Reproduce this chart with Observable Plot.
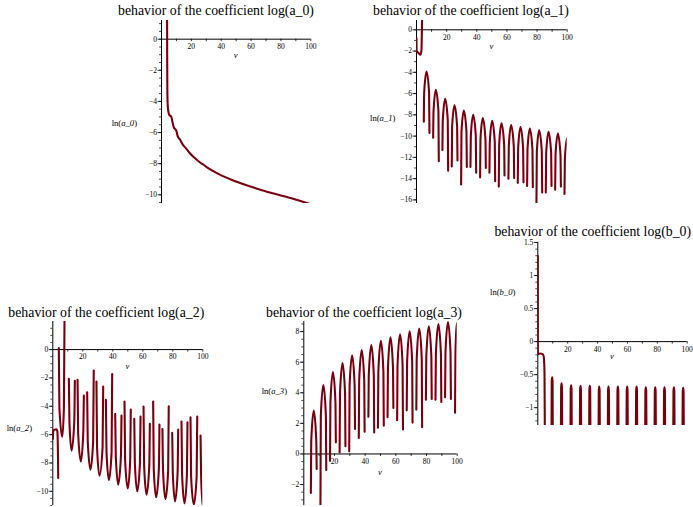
<!DOCTYPE html>
<html><head><meta charset="utf-8">
<script src="https://cdn.jsdelivr.net/npm/d3@7"></script>
<script src="https://cdn.jsdelivr.net/npm/@observablehq/plot@0.6"></script>
<style>
html,body{margin:0;padding:0;background:#fff;}
#page{position:relative;width:693px;height:507px;overflow:hidden;background:#fff;}
#page svg{position:absolute;left:0;top:0;background:transparent !important;overflow:visible;}
</style></head><body><div id="page"></div>
<script>
// ---------- tick labels ----------
const xTickLabels = [20, 40, 60, 80, 100];
const xTickMarks = [10, 20, 30, 40, 50, 60, 70, 80, 90, 100];
const a0YTicks = [0, -2, -4, -6, -8, -10];
const a1YTicks = [0, -2, -4, -6, -8, -10, -12, -14, -16];
const a2YTicks = [0, -2, -4, -6, -8, -10];
const a3YTicks = [-2, 0, 2, 4, 6, 8];
const b0YTicks = [-1, -0.5, 0, 0.5, 1, 1.5];

// ---------- titles and axis labels ----------
const titles = ["behavior of the coefficient log(a_0)", "behavior of the coefficient log(a_1)",
  "behavior of the coefficient log(a_2)", "behavior of the coefficient log(a_3)", "behavior of the coefficient log(b_0)"];
const yNames = ["a_0", "a_1", "a_2", "a_3", "b_0"];
const xName = "v";

// ---------- series (v, ln value); each piece is a drawn stretch ----------
const a0Pieces = [
  [[3.75,1.2],[3.8,-1.0],[3.9,-3.0],[4.1,-4.1],[4.6,-4.65],[5.3,-4.88],[6.5,-4.97],[7.3,-5.3],[8.2,-5.65],[9.3,-5.8],[10.0,-5.9],[10.6,-6.15],[11.3,-6.32],[12.4,-6.45],[13.5,-6.65],[14.9,-6.85],[16.0,-6.97],[17.1,-7.1],[19.0,-7.33],[21.0,-7.53],[23.0,-7.7],[25.0,-7.86],[27.5,-8.03],[30.0,-8.2],[35.0,-8.5],[40.4,-8.77],[46.0,-9.0],[51.5,-9.2],[57.0,-9.39],[62.7,-9.56],[68.0,-9.72],[73.8,-9.88],[80.0,-10.04],[85.0,-10.17],[92.0,-10.37],[100,-10.6]]
];

const a1Pieces = [
  [[0,-0.8],[0.05,-1.95],[1.5,-2.2],[2.7,-2.35],[3.3,-1.9],[3.5,-0.8],[3.7,0.87]],
  [[4.85,-8.65],[5.1,-5.9],[6.64,-3.92],[8.35,-5.9],[8.6,-9.7]],
  [[11.05,-10.15],[11.3,-7.65],[12.83,-5.65],[14.55,-7.65],[14.8,-12.36]],
  [[17.2,-11.3],[17.45,-8.5],[19.02,-6.5],[20.75,-8.5],[21.0,-13.25]],
  [[23.4,-12.85],[23.65,-9.1],[25.21,-7.1],[26.95,-9.1],[27.2,-12.3]],
  [[29.6,-14.55],[29.85,-9.6],[31.41,-7.6],[33.15,-9.6],[33.4,-12.9]],
  [[35.8,-12.9],[36.05,-10.0],[37.6,-8.0],[39.35,-10.0],[39.6,-13.45]],
  [[42.2,-13.9],[42.45,-10.3],[44.0,-8.3],[45.75,-10.3],[46.0,-13.0]],
  [[48.4,-13.45],[48.65,-10.55],[50.2,-8.55],[51.95,-10.55],[52.2,-14.25]],
  [[54.6,-14.75],[54.85,-10.8],[56.4,-8.8],[58.15,-10.8],[58.4,-13.7]],
  [[61.0,-14.0],[61.25,-10.95],[62.8,-8.95],[64.55,-10.95],[64.8,-13.95]],
  [[67.2,-14.4],[67.45,-11.15],[69.0,-9.15],[70.75,-11.15],[71.0,-14.35]],
  [[73.4,-14.7],[73.65,-11.3],[75.2,-9.3],[76.95,-11.3],[77.2,-14.8]],
  [[79.6,-16.25],[79.85,-11.45],[81.4,-9.45],[83.15,-11.45],[83.4,-15.3]],
  [[85.8,-15.3],[86.05,-11.6],[87.6,-9.6],[89.35,-11.6],[89.6,-14.7]],
  [[92.0,-15.05],[92.25,-11.75],[93.8,-9.75],[95.55,-11.75],[95.8,-14.75]],
  [[98.2,-15.45],[98.45,-12.2],[99.3,-10.7],[100,-10.2]]
];

const a2Pieces = [
  [[0,-6.3],[0.3,-5.75],[1.0,-5.65],[2.5,-5.62],[3.0,-5.75],[3.3,-6.5],[3.5,-7.8],[3.6,-9.06]],
  [[4.0,0.1],[4.4,-4.1],[6.3,-6.15],[7.4,-4.1],[7.8,1.98]],
  [[10.7,-2.07],[11.1,-5.13],[12.5,-7.13],[14.3,-5.13],[14.7,-2.21]],
  [[16.5,-2.14],[16.9,-5.9],[18.7,-7.9],[20.3,-5.9],[20.7,-3.25]],
  [[22.9,-3.01],[23.3,-6.47],[25.1,-8.47],[26.9,-6.47],[27.3,-1.48]],
  [[29.1,-2.26],[29.5,-6.89],[31.1,-8.89],[33.2,-6.89],[33.6,-2.61]],
  [[35.4,-3.55],[35.8,-7.2],[37.4,-9.2],[39.2,-7.2],[39.6,-1.72]],
  [[41.6,-4.54],[42.0,-7.53],[43.6,-9.53],[45.4,-7.53],[45.8,-4.66]],
  [[47.8,-3.67],[48.2,-7.79],[50.0,-9.79],[51.6,-7.79],[52.0,-4.23]],
  [[54.3,-4.89],[54.7,-8.0],[56.3,-10.0],[58.1,-8.0],[58.5,-4.73]],
  [[60.5,-4.02],[60.9,-8.23],[62.5,-10.23],[64.3,-8.23],[64.7,-5.24]],
  [[66.9,-3.67],[67.3,-8.42],[68.9,-10.42],[70.7,-8.42],[71.1,-5.29]],
  [[73.1,-5.6],[73.5,-8.54],[75.1,-10.54],[76.9,-8.54],[77.3,-4.0]],
  [[79.6,-5.88],[80.0,-8.71],[81.5,-10.71],[83.2,-8.71],[83.6,-5.65]],
  [[85.8,-5.08],[86.2,-8.85],[87.8,-10.85],[89.4,-8.85],[89.8,-5.13]],
  [[91.8,-4.78],[92.2,-8.94],[94.0,-10.94],[95.9,-8.94],[96.3,-4.73]],
  [[98.5,-6.07],[98.9,-9.0],[100,-10.98]]
];

const a3Pieces = [
  [[4.6,-2.55],[4.85,0.83],[6.5,2.83],[8.15,0.83],[8.4,-0.98]],
  [[10.85,-3.37],[11.1,2.5],[12.75,4.5],[14.4,2.5],[14.65,-1.05]],
  [[17.1,-0.45],[17.35,3.35],[19.0,5.35],[20.65,3.35],[20.9,0.76]],
  [[23.35,0.1],[23.6,3.95],[25.25,5.95],[26.9,3.95],[27.15,0.5]],
  [[29.6,0.17],[29.85,4.45],[31.5,6.45],[33.15,4.45],[33.4,1.63]],
  [[35.85,1.05],[36.1,4.8],[37.75,6.8],[39.4,4.8],[39.65,1.46]],
  [[42.1,2.44],[42.35,5.12],[44.0,7.12],[45.65,5.12],[45.9,1.41]],
  [[48.35,1.72],[48.6,5.4],[50.25,7.4],[51.9,5.4],[52.15,1.85]],
  [[54.6,2.4],[54.85,5.62],[56.5,7.62],[58.15,5.62],[58.4,3.0]],
  [[60.85,2.2],[61.1,5.82],[62.75,7.82],[64.4,5.82],[64.65,1.6]],
  [[67.1,2.85],[67.35,6.02],[69.0,8.02],[70.65,6.02],[70.9,2.05]],
  [[73.35,2.9],[73.6,6.2],[75.25,8.2],[76.9,6.2],[77.15,1.75]],
  [[79.6,3.55],[79.85,6.35],[81.5,8.35],[83.15,6.35],[83.4,3.6]],
  [[85.85,3.55],[86.1,6.5],[87.75,8.5],[89.4,6.5],[89.65,3.4]],
  [[92.1,3.7],[92.35,6.62],[94.0,8.62],[95.65,6.62],[95.9,3.6]],
  [[98.6,2.7],[98.85,6.4],[99.5,8.2],[100,8.55]]
];

const b0Pieces = [
  [[0,1.3],[0.05,-0.19],[1.5,-0.18],[3.3,-0.19],[3.9,-0.22],[4.3,-0.33],[4.5,-0.5],[4.7,-1.27]],
  [[9.2,-1.27],[9.32,-0.6],[9.6,-0.54],[9.88,-0.6],[10.0,-1.27]],
  [[15.5,-1.27],[15.62,-0.69],[15.9,-0.63],[16.18,-0.69],[16.3,-1.27]],
  [[21.9,-1.27],[22.02,-0.72],[22.3,-0.66],[22.58,-0.72],[22.7,-1.27]],
  [[28.2,-1.27],[28.32,-0.73],[28.6,-0.67],[28.88,-0.73],[29.0,-1.27]],
  [[34.4,-1.27],[34.52,-0.73],[34.8,-0.67],[35.08,-0.73],[35.2,-1.27]],
  [[40.7,-1.27],[40.82,-0.74],[41.1,-0.68],[41.38,-0.74],[41.5,-1.27]],
  [[46.9,-1.27],[47.02,-0.74],[47.3,-0.68],[47.58,-0.74],[47.7,-1.27]],
  [[53.2,-1.27],[53.32,-0.74],[53.6,-0.68],[53.88,-0.74],[54.0,-1.27]],
  [[59.4,-1.27],[59.52,-0.74],[59.8,-0.68],[60.08,-0.74],[60.2,-1.27]],
  [[65.7,-1.27],[65.82,-0.74],[66.1,-0.68],[66.38,-0.74],[66.5,-1.27]],
  [[71.9,-1.27],[72.02,-0.75],[72.3,-0.69],[72.58,-0.75],[72.7,-1.27]],
  [[78.2,-1.27],[78.32,-0.75],[78.6,-0.69],[78.88,-0.75],[79.0,-1.27]],
  [[84.4,-1.27],[84.52,-0.75],[84.8,-0.69],[85.08,-0.75],[85.2,-1.27]],
  [[90.7,-1.27],[90.82,-0.75],[91.1,-0.69],[91.38,-0.75],[91.5,-1.27]],
  [[96.9,-1.27],[97.02,-0.76],[97.3,-0.7],[97.58,-0.76],[97.7,-1.27]]
];

// ---------- layout (pixel frame of each panel) ----------
const W = 693, H = 507;
const lineColor = "#78000E";
const serif = "'Liberation Serif','Times New Roman',serif";
const panels = [
  {pieces: a0Pieces, yTicks: a0YTicks, minor: 0.5, left: 161, right: 310.3, top: 20, bottom: 203, yMin: -10.56, yMax: 1.2,
   title: [216, 15], ylab: [111.7, 126], vlab: 57.5},
  {pieces: a1Pieces, yTicks: a1YTicks, minor: 1, left: 416, right: 566.7, top: 20, bottom: 203, yMin: -16.34, yMax: 0.875,
   title: [471, 14.5], ylab: [370, 121], vlab: 49},
  {pieces: a2Pieces, yTicks: a2YTicks, minor: 0.5, left: 52.3, right: 202.3, top: 321, bottom: 505, yMin: -11.0, yMax: 1.98,
   title: [106.3, 316.5], ylab: [6.7, 431], vlab: 369},
  {pieces: a3Pieces, yTicks: a3YTicks, minor: 0.5, left: 303.3, right: 456.7, top: 321, bottom: 505, yMin: -3.37, yMax: 8.66,
   title: [364, 316.5], ylab: [261.7, 393.5], vlab: 475},
  {pieces: b0Pieces, yTicks: b0YTicks, minor: 0.1, left: 537.3, right: 686.7, top: 241.7, bottom: 425, yMin: -1.27, yMax: 1.505,
   title: [592.8, 235.5], ylab: [490, 294.5], vlab: 359}
];

function pieceTable(pieces) {
  return pieces.flatMap((piece, seg) => piece.map(([v, y]) => ({v, y, seg})));
}
function fmtTick(d) { return d < 0 ? "\u2212" + Math.abs(d) : String(d); }

const page = document.getElementById("page");

panels.forEach((p) => {
  const kx = (p.right - p.left) / 100;
  const ky = (p.bottom - p.top) / (p.yMax - p.yMin);
  const s = p.minor;
  const yMinor = d3.range(Math.ceil(p.yMin / s - 1e-9), Math.floor(p.yMax / s + 1e-9) + 1).map(i => +(i * s).toFixed(4));
  const svg = Plot.plot({
    width: W, height: H,
    marginLeft: p.left, marginRight: W - p.right, marginTop: p.top, marginBottom: H - p.bottom,
    x: {domain: [0, 100], axis: null},
    y: {domain: [p.yMin, p.yMax], axis: null},
    style: {background: "transparent", overflow: "visible", fontFamily: serif},
    marks: [
      Plot.ruleY([0], {stroke: "#000", strokeWidth: 1}),
      Plot.ruleX([0], {stroke: "#000", strokeWidth: 1}),
      Plot.ruleX(xTickMarks, {x: d => d, y1: () => 0, y2: () => -2.5 / ky, stroke: "#000", strokeWidth: 0.8}),
      Plot.ruleY(yMinor, {y: d => d, x1: () => 0, x2: () => -2 / kx, stroke: "#000", strokeWidth: 0.7}),
      Plot.ruleY(p.yTicks, {y: d => d, x1: () => 0, x2: () => -3.5 / kx, stroke: "#000", strokeWidth: 0.8}),
      Plot.text(xTickLabels, {x: d => d, y: () => 0, text: d => String(d), dy: 7.5, fontSize: 7.5, fontFamily: serif, fill: "#000"}),
      Plot.text(p.yTicks, {x: () => 0, y: d => d, text: fmtTick, textAnchor: "end", dx: -4.5, fontSize: 7.5, fontFamily: serif, fill: "#000"}),
      Plot.line(pieceTable(p.pieces), {x: "v", y: "y", z: "seg", stroke: lineColor, strokeWidth: 2.1, curve: "monotone-x", clip: true})
    ]
  });
  page.appendChild(svg);
});

// ---------- text overlay: titles, axis names ----------
const overlay = d3.select(page).append("svg").attr("width", W).attr("height", H)
  .style("font-family", serif).style("pointer-events", "none");
panels.forEach((p, i) => {
  overlay.append("text").attr("x", p.title[0]).attr("y", p.title[1]).attr("text-anchor", "middle")
    .attr("font-size", 13.8).attr("fill", "#000").text(titles[i]);
  const yl = overlay.append("text").attr("x", p.ylab[0]).attr("y", p.ylab[1]).attr("font-size", 8.6).attr("fill", "#000");
  yl.append("tspan").text("ln(");
  yl.append("tspan").attr("font-style", "italic").text(yNames[i]);
  yl.append("tspan").text(")");
  overlay.append("text").attr("x", (p.left + p.right) / 2).attr("y", p.vlab).attr("text-anchor", "middle")
    .attr("font-size", 8.6).attr("font-style", "italic").attr("fill", "#000").text(xName);
});
</script>
</body></html>
